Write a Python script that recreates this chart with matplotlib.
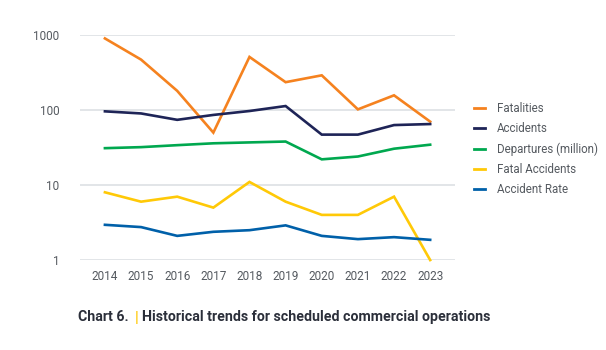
import matplotlib
matplotlib.use('Agg')
import matplotlib.pyplot as plt
from matplotlib.lines import Line2D

plt.rcParams['font.family'] = ['Roboto', 'DejaVu Sans']

years = [2014, 2015, 2016, 2017, 2018, 2019, 2020, 2021, 2022, 2023]
fatalities = [900, 470, 180, 50, 510, 235, 290, 102, 157, 70]
accidents = [96, 90, 74, 86, 97, 113, 47, 47, 63, 65]
departures = [31, 32, 34, 36, 37, 38, 22, 24, 30.5, 34.5]
fatal_accidents = [8, 6, 7, 5, 11, 6, 4, 4, 7, 1]
accident_rate = [2.95, 2.75, 2.1, 2.38, 2.5, 2.9, 2.1, 1.9, 2.02, 1.86]

series = [
    ('Fatalities', fatalities, '#F5821F'),
    ('Accidents', accidents, '#1E2457'),
    ('Departures (million)', departures, '#00A84F'),
    ('Fatal Accidents', fatal_accidents, '#FFC907'),
    ('Accident Rate', accident_rate, '#0060A9'),
]

fig = plt.figure(figsize=(6.06, 3.5), dpi=100)
ax = fig.add_axes([0.132, 0.257, 0.619, 0.643])

for name, vals, col in series:
    ax.plot(years, vals, color=col, lw=1.9, label=name, clip_on=False,
            solid_joinstyle='miter', zorder=3)

ax.set_yscale('log')
ax.set_ylim(1, 1000)
ax.set_xlim(2013.31, 2023.69)
ax.set_yticks([1, 10, 100, 1000])
ax.set_yticklabels(['1', '10', '100', '1000'])
ax.minorticks_off()
ax.set_xticks(years)
ax.set_xticklabels([str(y) for y in years])
ax.tick_params(length=0, labelsize=8.5, colors='#555a60')
ax.tick_params(axis='y', pad=15)
ax.tick_params(axis='x', pad=7)
ax.grid(axis='y', color='#dde0e4', lw=1.2, zorder=0)
for s in ax.spines.values():
    s.set_visible(False)

handles = [Line2D([0], [0], color=c, lw=2) for _, _, c in series]
leg = fig.legend(handles, [n for n, _, _ in series], loc='upper left',
                 bbox_to_anchor=(0.765, 0.738), frameon=False, fontsize=8.3,
                 handlelength=1.0, handletextpad=1.0, labelspacing=0.62)
for t in leg.get_texts():
    t.set_color('#555a60')

fig.text(0.128, 0.083, 'Chart 6.', fontsize=10.2, fontweight='bold', color='#2b2f3a')
fig.text(0.223, 0.081, '|', fontsize=11, fontweight='bold', color='#FFC907')
fig.text(0.234, 0.083, 'Historical trends for scheduled commercial operations',
         fontsize=10.2, fontweight='bold', color='#2b2f3a')

fig.savefig('out.png', dpi=100)
